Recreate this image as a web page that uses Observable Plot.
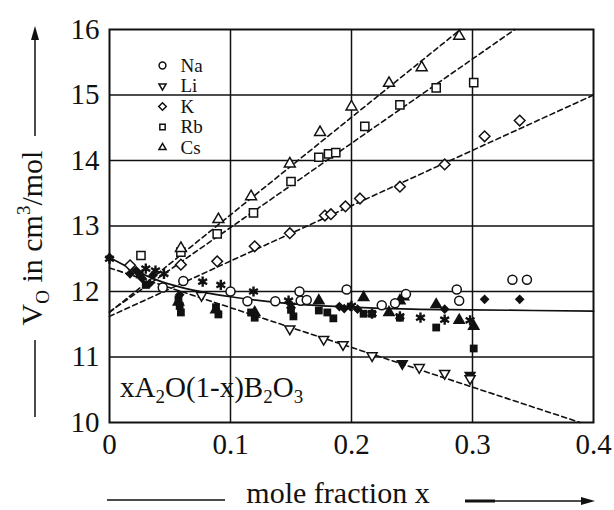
<!DOCTYPE html>
<html><head><meta charset="utf-8">
<script src="https://cdn.jsdelivr.net/npm/d3@7"></script>
<script src="https://cdn.jsdelivr.net/npm/@observablehq/plot@0.6"></script>
<style>
html,body{margin:0;padding:0;background:#fff;}
svg{display:block;}
svg text{font-family:"Liberation Serif","Times New Roman",Times,"DejaVu Serif",serif !important;}
</style>
</head><body>
<div id="chart"></div>
<script>
// ---------- ticks ----------
const xTicks = [0, 0.1, 0.2, 0.3, 0.4];
const yTicks = [10, 11, 12, 13, 14, 15, 16];
const gridX = [0.1, 0.2, 0.3];
const gridY = [11, 12, 13, 14, 15];
const legendNames = ["Na", "Li", "K", "Rb", "Cs"];

// ---------- open symbols (legend series) ----------
const naX = [0.044, 0.061, 0.1, 0.114, 0.137, 0.157, 0.158, 0.163, 0.196, 0.225, 0.236, 0.245, 0.287, 0.289, 0.333, 0.345];
const naY = [12.06, 12.16, 12.0, 11.85, 11.85, 12.0, 11.86, 11.87, 12.03, 11.79, 11.82, 11.96, 12.03, 11.86, 12.18, 12.18];
const liX = [0.076, 0.149, 0.177, 0.193, 0.217, 0.256, 0.277, 0.298];
const liY = [11.94, 11.43, 11.27, 11.19, 11.02, 10.84, 10.75, 10.67];
const kX = [0.017, 0.059, 0.089, 0.12, 0.149, 0.178, 0.183, 0.195, 0.207, 0.24, 0.277, 0.31, 0.339];
const kY = [12.4, 12.41, 12.46, 12.69, 12.89, 13.16, 13.18, 13.3, 13.42, 13.6, 13.94, 14.37, 14.61];
const rbX = [0.026, 0.059, 0.089, 0.119, 0.15, 0.173, 0.181, 0.187, 0.211, 0.24, 0.27, 0.301];
const rbY = [12.55, 12.6, 12.88, 13.2, 13.68, 14.05, 14.1, 14.12, 14.52, 14.85, 15.11, 15.19];
const csX = [0.059, 0.09, 0.117, 0.149, 0.174, 0.2, 0.231, 0.258, 0.289];
const csY = [12.66, 13.1, 13.45, 13.95, 14.43, 14.82, 15.18, 15.42, 15.9];

// ---------- filled symbols (other data) ----------
const liFilledX = [0.242, 0.298];
const liFilledY = [10.9, 10.72];
const fDiamondX = [0.0, 0.017, 0.022, 0.027, 0.033, 0.036, 0.058, 0.19, 0.194, 0.199, 0.205, 0.277, 0.31, 0.339];
const fDiamondY = [12.52, 12.27, 12.32, 12.2, 12.12, 12.25, 11.95, 11.77, 11.74, 11.77, 11.73, 11.73, 11.88, 11.88];
const fSquareX = [0.025, 0.03, 0.057, 0.058, 0.059, 0.088, 0.09, 0.117, 0.12, 0.15, 0.152, 0.173, 0.18, 0.185, 0.21, 0.217, 0.24, 0.27, 0.301];
const fSquareY = [12.26, 12.1, 11.88, 11.78, 11.68, 11.76, 11.65, 11.68, 11.6, 11.72, 11.62, 11.71, 11.68, 11.59, 11.66, 11.66, 11.6, 11.45, 11.13];
const fTriangleX = [0.057, 0.088, 0.12, 0.173, 0.21, 0.231, 0.24, 0.243, 0.27, 0.289, 0.301];
const fTriangleY = [11.84, 11.72, 11.68, 11.86, 11.91, 11.68, 11.86, 11.92, 11.8, 11.56, 11.47];
const starX = [0.0, 0.03, 0.038, 0.045, 0.077, 0.092, 0.119, 0.148, 0.15, 0.2, 0.217, 0.24, 0.257, 0.277, 0.298];
const starY = [12.5, 12.35, 12.32, 12.27, 12.15, 12.1, 12.0, 11.86, 11.78, 11.78, 11.66, 11.62, 11.6, 11.57, 11.56];

// ---------- fit lines ----------
const csLineX = [0, 0.29];   const csLineY = [11.68, 16];
const rbLineX = [0, 0.335];  const rbLineY = [11.69, 16];
const kLineX = [0, 0.4];     const kLineY = [11.62, 15.0];
const liLineX = [0, 0.389];  const liLineY = [12.36, 10];
const fitX = [0, 0.02, 0.04, 0.06, 0.08, 0.1, 0.13, 0.16, 0.2, 0.25, 0.3, 0.4];
const fitY = [12.52, 12.33, 12.17, 12.06, 11.98, 11.92, 11.85, 11.8, 11.76, 11.73, 11.72, 11.7];

const rows = (xs, ys) => xs.map((x, i) => ({x, y: ys[i]}));

const ink = "#111";
const serif = "\"Liberation Serif\", \"Times New Roman\", Times, \"DejaVu Serif\", serif";
const openStyle = {
  Na: {symbol: "circle", rotate: 0, r: 4.5},
  Li: {symbol: "triangle2", rotate: 180, r: 4.8},
  K: {symbol: "diamond2", rotate: 0, r: 4.8},
  Rb: {symbol: "square2", rotate: 0, r: 5.2},
  Cs: {symbol: "triangle2", rotate: 0, r: 5.2}
};
const openData = {Na: [naX, naY], Li: [liX, liY], K: [kX, kY], Rb: [rbX, rbY], Cs: [csX, csY]};

const dashed = {stroke: ink, strokeWidth: 1.6, strokeDasharray: "5,3.5"};

const marks = [
  Plot.ruleX(gridX, {stroke: ink, strokeWidth: 1.5}),
  Plot.ruleY(gridY, {stroke: ink, strokeWidth: 1.5}),
  Plot.line(rows(csLineX, csLineY), {x: "x", y: "y", ...dashed}),
  Plot.line(rows(rbLineX, rbLineY), {x: "x", y: "y", ...dashed}),
  Plot.line(rows(kLineX, kLineY), {x: "x", y: "y", ...dashed}),
  Plot.line(rows(liLineX, liLineY), {x: "x", y: "y", ...dashed}),
  Plot.line(rows(fitX, fitY), {x: "x", y: "y", curve: "monotone-x", stroke: ink, strokeWidth: 1.7}),
  // filled data
  Plot.dot(rows(fSquareX, fSquareY), {x: "x", y: "y", symbol: "square", r: 4.4, fill: ink}),
  Plot.dot(rows(fDiamondX, fDiamondY), {x: "x", y: "y", symbol: "diamond2", r: 4.4, fill: ink}),
  Plot.dot(rows(fTriangleX, fTriangleY), {x: "x", y: "y", symbol: "triangle", r: 4.8, fill: ink}),
  Plot.dot(rows(liFilledX, liFilledY), {x: "x", y: "y", symbol: "triangle", rotate: 180, r: 4.6, fill: ink}),
  Plot.dot(rows(starX, starY), {x: "x", y: "y", symbol: "asterisk", r: 4.8, stroke: ink, strokeWidth: 2.4}),
];
// open data
for (const name of legendNames) {
  const st = openStyle[name];
  const [xs, ys] = openData[name];
  marks.push(Plot.dot(rows(xs, ys), {x: "x", y: "y", symbol: st.symbol, rotate: st.rotate, r: st.r, stroke: ink, strokeWidth: 1.5, fill: "white"}));
}
// legend
legendNames.forEach((name, i) => {
  const st = openStyle[name];
  marks.push(Plot.dot([name], {frameAnchor: "top-left", dx: 53, dy: 36 + 20.5 * i, symbol: st.symbol, rotate: st.rotate, r: 3.4, stroke: ink, strokeWidth: 1.5, fill: "white"}));
  marks.push(Plot.text([name], {frameAnchor: "top-left", dx: 71, dy: 36 + 20.5 * i, text: d => d, textAnchor: "start", lineAnchor: "middle", fontSize: 19, fill: ink}));
});
marks.push(Plot.frame({stroke: ink, strokeWidth: 2}));

const svg = Plot.plot({
  width: 614,
  height: 510,
  marginLeft: 109,
  marginRight: 21,
  marginTop: 29,
  marginBottom: 88,
  style: {fontFamily: serif, fontSize: "29px", color: ink, background: "white"},
  x: {domain: [0, 0.4], ticks: xTicks, tickFormat: d => String(d), tickSize: 0, tickPadding: 11, label: null},
  y: {domain: [10, 16], ticks: yTicks, tickFormat: d => String(d), tickSize: 0, tickPadding: 10, label: null},
  marks
});
document.getElementById("chart").appendChild(svg);

// ---------- annotations: formula, axis titles with arrows ----------
const s = d3.select(svg);
const f = s.append("text").attr("x", 120).attr("y", 397).attr("text-anchor", "start")
  .attr("font-family", serif).attr("font-size", 29).attr("fill", ink);
f.append("tspan").text("xA");
f.append("tspan").attr("font-size", 19).attr("dy", 6).text("2");
f.append("tspan").attr("dy", -6).text("O(1-x)B");
f.append("tspan").attr("font-size", 19).attr("dy", 6).text("2");
f.append("tspan").attr("dy", -6).text("O");
f.append("tspan").attr("font-size", 19).attr("dy", 6).text("3");

// y title
const yt = s.append("text").attr("transform", "translate(42,238) rotate(-90)").attr("text-anchor", "middle")
  .attr("font-family", serif).attr("font-size", 30).attr("fill", ink);
yt.append("tspan").text("V");
yt.append("tspan").attr("font-size", 19).attr("dy", 7).text("O");
yt.append("tspan").attr("dy", -7).text(" in cm");
yt.append("tspan").attr("font-size", 19).attr("dy", -12).text("3");
yt.append("tspan").attr("dy", 12).text("/mol");
s.append("line").attr("x1", 35).attr("x2", 35).attr("y1", 417).attr("y2", 340).attr("stroke", ink).attr("stroke-width", 1.5);
s.append("line").attr("x1", 35).attr("x2", 35).attr("y1", 136).attr("y2", 38).attr("stroke", ink).attr("stroke-width", 1.5);
s.append("path").attr("d", "M35,26 L31,40 L39,40 Z").attr("fill", ink);

// x title
s.append("text").attr("x", 338).attr("y", 503).attr("text-anchor", "middle")
  .attr("font-family", serif).attr("font-size", 30).attr("fill", ink).text("mole fraction x");
s.append("line").attr("x1", 107).attr("x2", 225).attr("y1", 500).attr("y2", 500).attr("stroke", ink).attr("stroke-width", 1.5);
s.append("line").attr("x1", 465).attr("x2", 583).attr("y1", 501).attr("y2", 501).attr("stroke", ink).attr("stroke-width", 1.5);
s.append("line").attr("x1", 465).attr("x2", 495).attr("y1", 501).attr("y2", 501).attr("stroke", ink).attr("stroke-width", 3);
s.append("path").attr("d", "M595,501 L581,497 L581,505 Z").attr("fill", ink);
</script>
</body></html>
